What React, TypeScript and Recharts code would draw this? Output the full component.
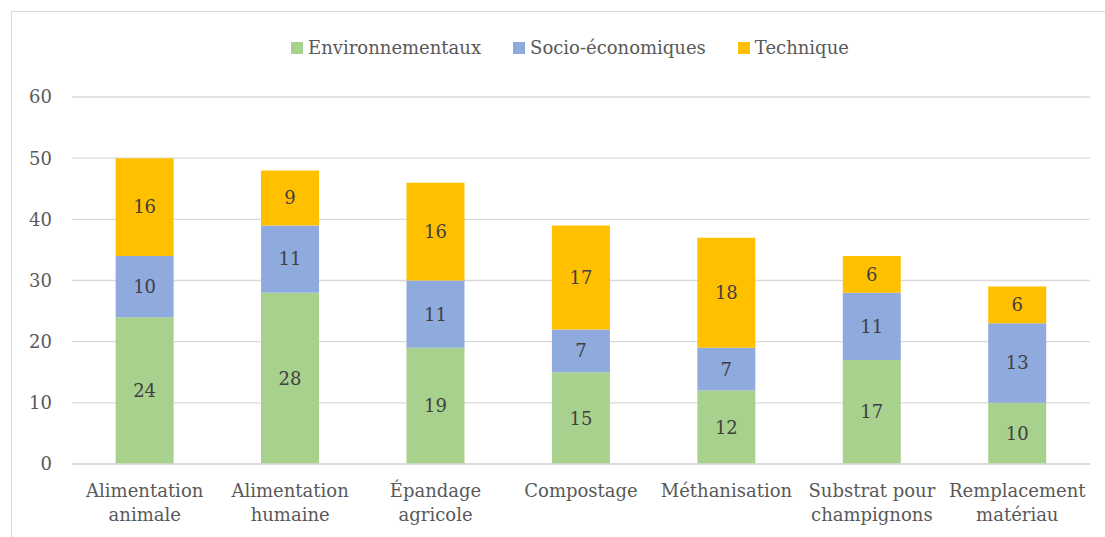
import React from "react";
import { BarChart, Bar, XAxis, YAxis, CartesianGrid, LabelList } from "recharts";

const categories = [
  "Alimentation\nanimale",
  "Alimentation\nhumaine",
  "Épandage\nagricole",
  "Compostage",
  "Méthanisation",
  "Substrat pour\nchampignons",
  "Remplacement\nmatériau",
];
const environnementaux = [24, 28, 19, 15, 12, 17, 10];
const socioEconomiques = [10, 11, 11, 7, 7, 11, 13];
const technique = [16, 9, 16, 17, 18, 6, 6];
const yTicks = [0, 10, 20, 30, 40, 50, 60];

const series = [
  { key: "env", name: "Environnementaux", color: "#A9D18E" },
  { key: "soc", name: "Socio-économiques", color: "#8FAADC" },
  { key: "tec", name: "Technique", color: "#FFC000" },
];

const data = categories.map((c, i) => ({
  cat: c,
  env: environnementaux[i],
  soc: socioEconomiques[i],
  tec: technique[i],
}));

const FONT = "'DejaVu Serif', serif";

function CatTick(props: any) {
  const { x, y, payload } = props;
  const lines = String(payload.value).split("\n");
  return (
    <text x={x} y={y} textAnchor="middle" fill="#595959" fontSize={18} fontFamily={FONT}>
      {lines.map((l, i) => (
        <tspan key={i} x={x} dy={i === 0 ? 33 : 24}>
          {l}
        </tspan>
      ))}
    </text>
  );
}

// legend drawn outside the chart so it does not shift the plot area
function ChartLegend() {
  return (
    <div
      style={{
        position: "absolute",
        top: 36,
        left: 0,
        width: 1140,
        display: "flex",
        justifyContent: "center",
        fontFamily: FONT,
        fontSize: 18,
        color: "#595959",
        lineHeight: "24px",
      }}
    >
      {series.map((s) => (
        <div key={s.key} style={{ display: "flex", alignItems: "center", margin: "0 16px" }}>
          <span style={{ width: 12, height: 12, background: s.color, display: "inline-block", marginRight: 5 }} />
          <span>{s.name}</span>
        </div>
      ))}
    </div>
  );
}

export default function App() {
  return (
    <div style={{ position: "absolute", left: 0, top: 0, width: 1105, height: 537, overflow: "hidden", background: "#fff" }}>
      <div
        style={{
          position: "absolute",
          left: 11,
          top: 11,
          width: 1200,
          height: 600,
          border: "1px solid #D9D9D9",
        }}
      />
      <div style={{ position: "absolute", left: 0, top: 0 }}>
        <BarChart
          width={1105}
          height={537}
          data={data}
          margin={{ top: 97, right: 15, left: 0, bottom: 0 }}
          barCategoryGap="30%"
        >
          <CartesianGrid vertical={false} stroke="#D9D9D9" strokeWidth={1.3} />
          <XAxis
            dataKey="cat"
            height={73}
            axisLine={{ stroke: "#D9D9D9", strokeWidth: 1.3 }}
            tickLine={false}
            tick={<CatTick />}
            tickSize={0}
            tickMargin={0}
            interval={0}
          />
          <YAxis
            width={72}
            domain={[0, 60]}
            ticks={yTicks}
            axisLine={false}
            tickLine={false}
            tickSize={0}
            tickMargin={20}
            tick={{ fill: "#595959", fontSize: 18, fontFamily: FONT }}
          />
          {series.map((s) => (
            <Bar key={s.key} dataKey={s.key} name={s.name} stackId="a" fill={s.color} isAnimationActive={false}>
              <LabelList dataKey={s.key} position="center" fill="#404040" fontSize={18} fontFamily={FONT} />
            </Bar>
          ))}
        </BarChart>
      </div>
      <ChartLegend />
    </div>
  );
}
